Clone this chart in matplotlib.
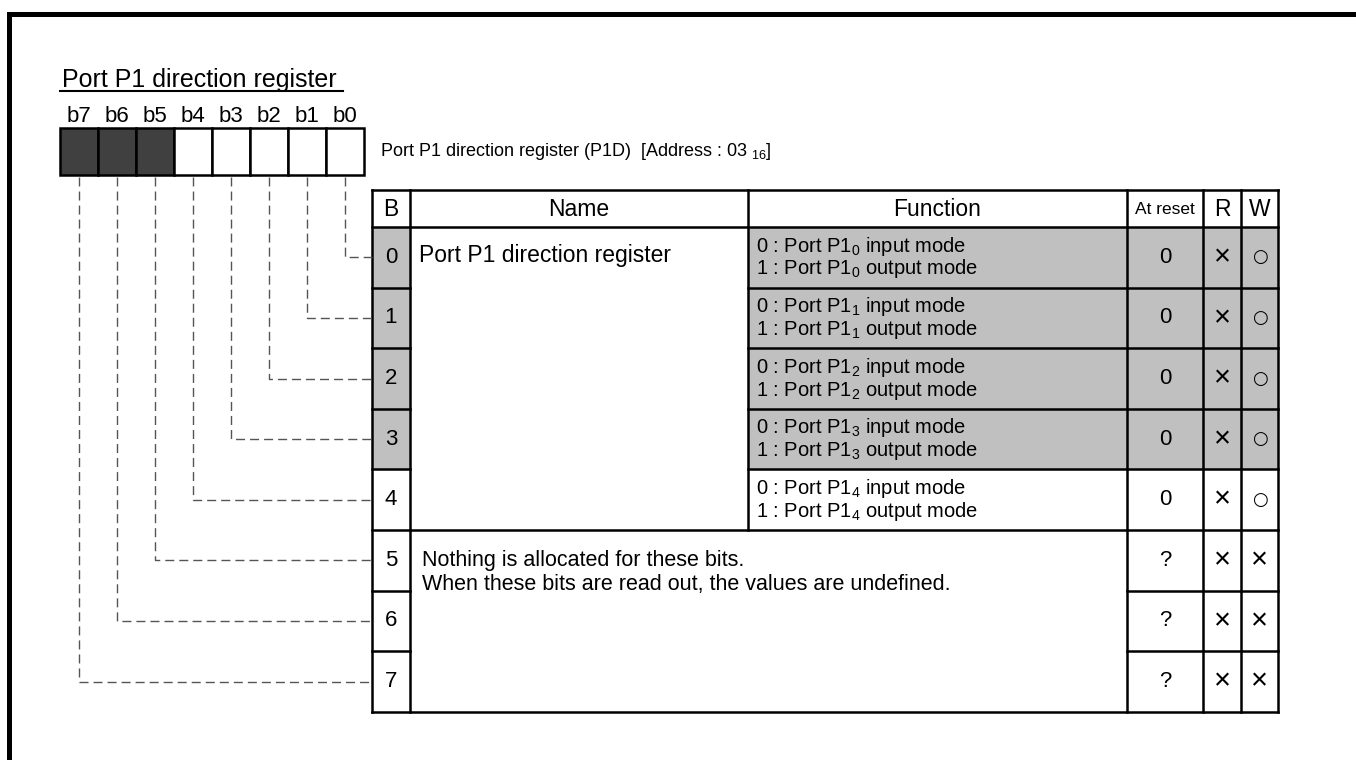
import matplotlib
matplotlib.use("Agg")
import matplotlib.pyplot as plt
from matplotlib.patches import Rectangle

plt.rcParams['font.family'] = ['Liberation Sans', 'DejaVu Sans']
plt.rcParams['mathtext.fontset'] = 'custom'
plt.rcParams['mathtext.rm'] = 'Liberation Sans'
plt.rcParams['lines.scale_dashes'] = False

# ---- data ----
title = "Port P1 direction register"
bit_labels = ["b7", "b6", "b5", "b4", "b3", "b2", "b1", "b0"]
unused_bits = [7, 6, 5]
reg_desc = "Port P1 direction register (P1D)  [Address : 03 $_\\mathregular{16}$]"
headers = ["B", "Name", "Function", "At reset", "R", "W"]
bits = [0, 1, 2, 3, 4, 5, 6, 7]
reg_name = "Port P1 direction register"
func_text = [
    ("0 : Port P1$_\\mathregular{0}$ input mode", "1 : Port P1$_\\mathregular{0}$ output mode"),
    ("0 : Port P1$_\\mathregular{1}$ input mode", "1 : Port P1$_\\mathregular{1}$ output mode"),
    ("0 : Port P1$_\\mathregular{2}$ input mode", "1 : Port P1$_\\mathregular{2}$ output mode"),
    ("0 : Port P1$_\\mathregular{3}$ input mode", "1 : Port P1$_\\mathregular{3}$ output mode"),
    ("0 : Port P1$_\\mathregular{4}$ input mode", "1 : Port P1$_\\mathregular{4}$ output mode"),
]
reserved_text = ["Nothing is allocated for these bits.",
                 "When these bits are read out, the values are undefined."]
reset_vals = ["0", "0", "0", "0", "0", "?", "?", "?"]
read_vals = ["×", "×", "×", "×", "×", "×", "×", "×"]
write_vals = ["○", "○", "○", "○", "○", "×", "×", "×"]
shaded_rows = [0, 1, 2, 3]

# ---- layout (pixel space) ----
W, H = 1356, 760
BOX_X0, BOX_W, BOX_Y0, BOX_Y1 = 60, 38, 128, 175
COLS = [372, 410, 748, 1127, 1203, 1241, 1278]
HEAD_T, HEAD_B = 190, 227
ROW_H = 60.6
GREY = "#c0c0c0"
DARK = "#404040"
LW = 1.8

fig = plt.figure(figsize=(W / 100, H / 100), dpi=100)
ax = fig.add_axes([0, 0, 1, 1])
ax.set_xlim(0, W)
ax.set_ylim(H, 0)
ax.axis("off")

# outer frame (top + left visible)
ax.plot([9, W + 5], [14, 14], color="black", lw=3.6, solid_capstyle="projecting")
ax.plot([9, 9], [14, H + 5], color="black", lw=3.6, solid_capstyle="projecting")

# title with underline
t = ax.text(62, 87, title, fontsize=18, ha="left", va="baseline")
fig.canvas.draw()
bb = t.get_window_extent().transformed(ax.transData.inverted())
ax.plot([bb.x0 - 2, bb.x1 + 6], [90.5, 90.5], color="black", lw=1.5)

# bit boxes
for k, lab in enumerate(bit_labels):
    bit = 7 - k
    x = BOX_X0 + BOX_W * k
    fc = DARK if bit in unused_bits else "white"
    ax.add_patch(Rectangle((x, BOX_Y0), BOX_W, BOX_Y1 - BOX_Y0, fc=fc,
                           ec="black", lw=LW))
    ax.text(x + BOX_W / 2, 122, lab, fontsize=16, ha="center", va="baseline")

ax.text(380, 151, reg_desc, fontsize=13, ha="left", va="center")

def row_top(i):
    return HEAD_B + ROW_H * i

# shading
for i in shaded_rows:
    ax.add_patch(Rectangle((COLS[0], row_top(i)), COLS[1] - COLS[0], ROW_H,
                           fc=GREY, ec="none"))
    ax.add_patch(Rectangle((COLS[2], row_top(i)), COLS[6] - COLS[2], ROW_H,
                           fc=GREY, ec="none"))

# table lines
TBOT = row_top(8)
def hline(y, x0, x1):
    ax.plot([x0, x1], [y, y], color="black", lw=LW, solid_capstyle="projecting")
def vline(x, y0, y1):
    ax.plot([x, x], [y0, y1], color="black", lw=LW, solid_capstyle="projecting")

hline(HEAD_T, COLS[0], COLS[6])
hline(HEAD_B, COLS[0], COLS[6])
hline(TBOT, COLS[0], COLS[6])
for x in [COLS[0], COLS[1], COLS[3], COLS[4], COLS[5], COLS[6]]:
    vline(x, HEAD_T, TBOT)
vline(COLS[2], HEAD_T, row_top(5))
for i in range(1, 8):
    y = row_top(i)
    hline(y, COLS[0], COLS[1])
    if i <= 4:
        hline(y, COLS[2], COLS[6])
    elif i == 5:
        hline(y, COLS[1], COLS[6])
    else:
        hline(y, COLS[3], COLS[6])

# headers
hy = (HEAD_T + HEAD_B) / 2 + 1
for j, h in enumerate(headers):
    cx = (COLS[j] + COLS[j + 1]) / 2
    fs = 12.5 if h == "At reset" else 16.5
    ax.text(cx, hy, h, fontsize=fs, ha="center", va="center")

# rows
for i in bits:
    y0 = row_top(i)
    cy = y0 + ROW_H / 2
    ax.text((COLS[0] + COLS[1]) / 2, cy, str(i), fontsize=16, ha="center", va="center")
    ax.text((COLS[3] + COLS[4]) / 2, cy, reset_vals[i], fontsize=16, ha="center", va="center")
    ax.text((COLS[4] + COLS[5]) / 2, cy, read_vals[i], fontsize=21, ha="center", va="center")
    if write_vals[i] == "○":
        ax.text((COLS[5] + COLS[6]) / 2, cy, write_vals[i], fontsize=13,
                ha="center", va="center", family="DejaVu Sans")
    else:
        ax.text((COLS[5] + COLS[6]) / 2, cy, write_vals[i], fontsize=21,
                ha="center", va="center")
    if i < len(func_text):
        l1, l2 = func_text[i]
        ax.text(COLS[2] + 8, y0 + 19, l1, fontsize=14.5, ha="left", va="center")
        ax.text(COLS[2] + 8, y0 + 42, l2, fontsize=14.5, ha="left", va="center")

ax.text(COLS[1] + 9, row_top(0) + ROW_H / 2 - 2, reg_name, fontsize=16.5, ha="left", va="center")
ax.text(COLS[1] + 12, row_top(5) + ROW_H / 2, reserved_text[0], fontsize=15.5, ha="left", va="center")
ax.text(COLS[1] + 12, row_top(5) + ROW_H / 2 + 24, reserved_text[1], fontsize=15.5, ha="left", va="center")

# dashed leader lines from bit boxes to rows
for k in range(8):
    bit = 7 - k
    x = BOX_X0 + BOX_W * k + BOX_W / 2
    y = row_top(bit) + ROW_H / 2
    ax.plot([x, x, COLS[0]], [BOX_Y1 + 2, y, y], color="#555555", lw=1.0,
            linestyle=(0, (6.5, 3.6)))

fig.savefig("out.png", dpi=100)
